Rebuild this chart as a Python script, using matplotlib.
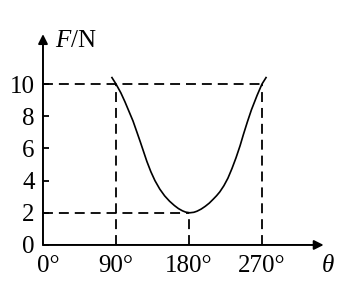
import matplotlib
matplotlib.use("Agg")
import matplotlib.pyplot as plt
import matplotlib.transforms as mtransforms

plt.rcParams['font.family'] = ['Liberation Serif', 'DejaVu Serif']
plt.rcParams['mathtext.fontset'] = 'custom'
plt.rcParams['mathtext.rm'] = 'Liberation Serif'
plt.rcParams['mathtext.it'] = 'Liberation Serif:italic'

# curve
theta = [85, 90, 96, 101, 106, 111, 116, 120, 124, 128, 133, 138, 144, 150, 156, 162, 167, 172, 176, 181,
         186, 190, 195, 200, 205, 210, 214, 218, 223, 228, 233, 238, 243, 247, 252, 257, 264, 270, 275]
force = [10.4, 10.0, 9.45, 8.9, 8.3, 7.7, 6.98, 6.4, 5.8, 5.2, 4.55, 4.0, 3.47, 3.05, 2.72, 2.45, 2.26, 2.12, 2.04, 2.0,
         2.03, 2.1, 2.23, 2.4, 2.6, 2.85, 3.06, 3.3, 3.68, 4.15, 4.75, 5.42, 6.17, 6.85, 7.65, 8.4, 9.3, 10.0, 10.4]

x_ticks = [0, 90, 180, 270]
x_labels = ['0°', '90°', '180°', '270°']
y_ticks = [0, 2, 4, 6, 8, 10]
y_labels = ['0', '2', '4', '6', '8', '10']

f_max, f_min = 10, 2
theta_lo, theta_min, theta_hi = 90, 180, 270

fig = plt.figure(figsize=(3.5, 3.05), dpi=100)
ax = fig.add_axes([0, 0, 1, 1])
ax.set_xlim(-53, 378.5)
ax.set_ylim(-3.73, 15.22)
ax.patch.set_alpha(0)

for s in ax.spines.values():
    s.set_visible(False)
ax.spines['left'].set_position(('data', 0))
ax.spines['bottom'].set_position(('data', 0))

ax.set_xticks(x_ticks)
ax.set_xticklabels(x_labels, fontsize=18)
ax.set_yticks(y_ticks)
ax.set_yticklabels(y_labels, fontsize=18)
ax.tick_params(axis='x', length=0, pad=7)
ax.tick_params(axis='y', direction='in', length=4, width=1.3, pad=6)
lab0 = ax.get_xticklabels()[0]
lab0.set_transform(lab0.get_transform() + mtransforms.ScaledTranslation(5 / 100, 0, fig.dpi_scale_trans))

# axes with arrows
arrow = dict(arrowstyle='-|>', color='black', lw=1.4, shrinkA=0, shrinkB=0, mutation_scale=14)
ax.annotate('', xy=(0, 13.1), xytext=(0, 0), arrowprops=arrow)
ax.annotate('', xy=(346, 0), xytext=(0, 0), arrowprops=arrow)

# dashed guides
dash = dict(color='black', lw=1.3, linestyle=(0, (5.5, 3.3)))
ax.plot([0, theta_hi], [f_max, f_max], **dash)
ax.plot([theta_lo, theta_lo], [0, f_max], **dash)
ax.plot([theta_hi, theta_hi], [0, f_max], **dash)
ax.plot([0, theta_min], [f_min, f_min], **dash)
ax.plot([theta_min, theta_min], [0, f_min], **dash)

ax.plot(theta, force, color='black', lw=1.2, solid_joinstyle='round')

ax.text(14.8, 12.7, r'$F$/N', fontsize=18, ha='left', va='center')
ax.text(351, -1.3, 'θ', fontsize=18, style='italic', ha='center', va='center')

fig.savefig('out.png', dpi=100)
